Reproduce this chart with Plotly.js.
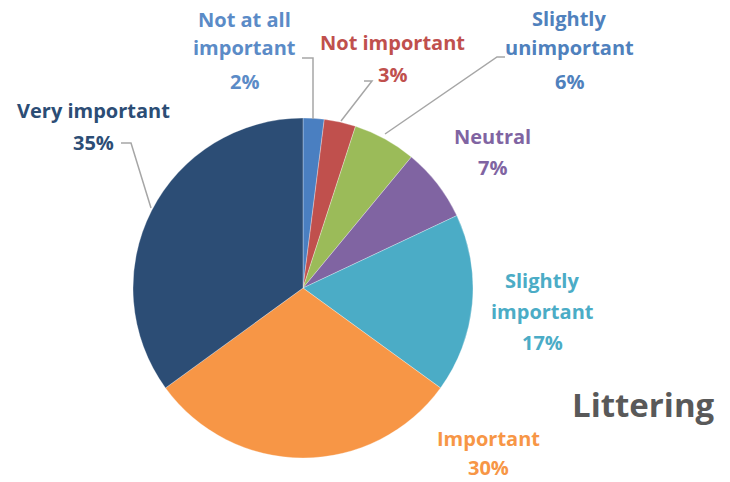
<!DOCTYPE html>
<html>
<head>
<meta charset="utf-8">
<script src="https://cdn.plot.ly/plotly-3.0.1.min.js"></script>
<style>html,body{margin:0;padding:0;background:#fff;}#chart{width:730px;height:482px;}</style>
</head>
<body>
<div id="chart"></div>
<script>
// ---- data ----
const categories = ['Not at all important','Not important','Slightly unimportant','Neutral','Slightly important','Important','Very important'];
const shares = [2, 3, 6, 7, 17, 30, 35];
const labelLines = [['Not at all','important'],['Not important'],['Slightly','unimportant'],['Neutral'],['Slightly','important'],['Important'],['Very important']];
const chartTitle = 'Littering';

// ---- styles ----
const sliceColors = ['#4A7FC1','#C0504D','#9BBB59','#8064A2','#4BACC6','#F79646','#2C4D75'];
const labelColors = ['#5B8BC7','#C0504D','#4F81BD','#8064A2','#4BACC6','#F79646','#2C4D75'];
const W = 730, H = 482;
const FONT = '"Open Sans", Lato, sans-serif';
// label centre positions in pixels (x, line centres y)
const labelPos = [
  {x:244, y:[20,48,81]},
  {x:392, y:[42,74]},
  {x:569, y:[19,48,81]},
  {x:492, y:[136,167]},
  {x:542, y:[280,311,342]},
  {x:488, y:[438,467]},
  {x:93,  y:[111,142]}
];
const leaders = [
  [[302,58],[313,58],[313,119]],
  [[364,81],[372,81],[341,121]],
  [[505,57],[497,57],[385,134]],
  [[121,143],[131,143],[151,208]]
];
const px = (x)=>x/W, py = (y)=>1-y/H;

const annotations = [];
labelLines.forEach((lines,i)=>{
  const all = lines.concat([shares[i]+'%']);
  all.forEach((t,j)=>{
    annotations.push({text:t, x:px(labelPos[i].x), y:py(labelPos[i].y[j]), xref:'paper', yref:'paper',
      xanchor:'center', yanchor:'middle', showarrow:false,
      font:{family:FONT, size:20, color:labelColors[i], weight:'bold'}});
  });
});
annotations.push({text:chartTitle, x:px(643), y:py(404), xref:'paper', yref:'paper', xanchor:'center', yanchor:'middle',
  showarrow:false, font:{family:FONT, size:33, color:'#595959', weight:'bold'}});

const shapes = leaders.map(pts=>({
  type:'path', xref:'paper', yref:'paper',
  path: pts.map((p,k)=>(k?'L':'M')+px(p[0])+','+py(p[1])).join(' '),
  line:{color:'#A6A6A6', width:1.5}
}));

const trace = {
  type:'pie', labels:categories, values:shares, sort:false, direction:'clockwise', rotation:0,
  marker:{colors:sliceColors, line:{color:'rgba(255,255,255,0.6)', width:0.5}},
  textinfo:'none', hoverinfo:'label+percent', showlegend:false,
  domain:{x:[px(133), px(473)], y:[py(458), py(118)]}
};

Plotly.newPlot('chart',[trace],{
  width:W, height:H, margin:{l:0,r:0,t:0,b:0},
  paper_bgcolor:'#fff', plot_bgcolor:'#fff', showlegend:false,
  annotations:annotations, shapes:shapes
},{displayModeBar:false, staticPlot:true});
</script>
</body>
</html>
